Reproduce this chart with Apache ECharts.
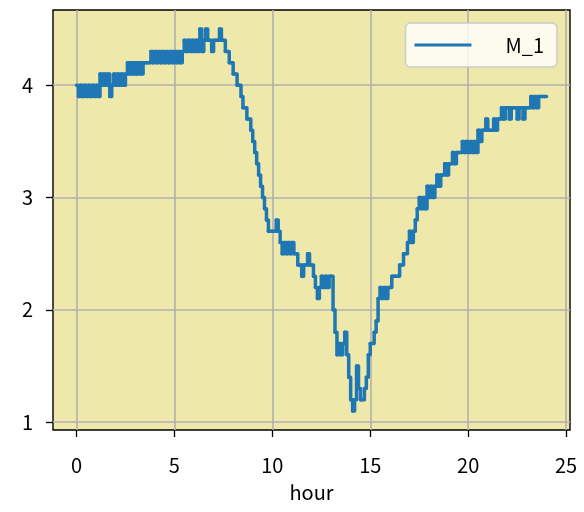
<!DOCTYPE html>
<html>
<head>
<meta charset="utf-8">
<script src="https://cdn.jsdelivr.net/npm/echarts@6/dist/echarts.min.js"></script>
<style>
  html, body { margin: 0; padding: 0; background: #fff; }
  #chart { width: 584px; height: 512px; }
</style>
</head>
<body>
<div id="chart"></div>
<script>
// one sample every 6 minutes (0.1 h)
const stepHours = 0.1
const seriesName = 'M_1'
const m1 = [
  4.0, 3.9, 4.0, 3.9, 4.0, 3.9, 4.0, 3.9, 4.0, 3.9, // 0h
  4.0, 3.9, 4.1, 4.0, 4.1, 4.0, 4.1, 3.9, 4.0, 4.1, // 1h
  4.0, 4.1, 4.0, 4.1, 4.0, 4.1, 4.2, 4.1, 4.2, 4.1, // 2h
  4.2, 4.1, 4.2, 4.1, 4.2, 4.2, 4.2, 4.2, 4.3, 4.2, // 3h
  4.3, 4.2, 4.3, 4.2, 4.3, 4.2, 4.3, 4.2, 4.3, 4.2, // 4h
  4.3, 4.2, 4.3, 4.2, 4.3, 4.4, 4.3, 4.4, 4.3, 4.4, // 5h
  4.3, 4.4, 4.3, 4.5, 4.3, 4.4, 4.5, 4.4, 4.4, 4.3, // 6h
  4.4, 4.4, 4.4, 4.5, 4.4, 4.4, 4.3, 4.3, 4.2, 4.2, // 7h
  4.1, 4.1, 4.0, 4.0, 3.9, 3.8, 3.8, 3.7, 3.7, 3.6, // 8h
  3.5, 3.4, 3.3, 3.2, 3.1, 3.0, 2.9, 2.8, 2.7, 2.7, // 9h
  2.7, 2.7, 2.8, 2.7, 2.6, 2.5, 2.6, 2.5, 2.6, 2.5, // 10h
  2.6, 2.5, 2.5, 2.4, 2.4, 2.3, 2.4, 2.4, 2.5, 2.4, // 11h
  2.4, 2.3, 2.2, 2.1, 2.2, 2.3, 2.2, 2.3, 2.2, 2.3, // 12h
  2.3, 2.0, 1.8, 1.6, 1.7, 1.6, 1.7, 1.8, 1.6, 1.4, // 13h
  1.2, 1.1, 1.2, 1.5, 1.3, 1.2, 1.2, 1.3, 1.4, 1.6, // 14h
  1.7, 1.7, 1.8, 1.9, 2.1, 2.2, 2.1, 2.2, 2.1, 2.2, // 15h
  2.2, 2.3, 2.3, 2.3, 2.3, 2.4, 2.4, 2.5, 2.5, 2.6, // 16h
  2.7, 2.6, 2.7, 2.8, 2.9, 3.0, 2.9, 3.0, 2.9, 3.1, // 17h
  3.0, 3.1, 3.0, 3.1, 3.2, 3.1, 3.2, 3.2, 3.3, 3.2, // 18h
  3.3, 3.3, 3.4, 3.3, 3.4, 3.4, 3.4, 3.5, 3.4, 3.5, // 19h
  3.4, 3.5, 3.4, 3.5, 3.4, 3.6, 3.5, 3.6, 3.6, 3.7, // 20h
  3.6, 3.6, 3.6, 3.7, 3.6, 3.7, 3.7, 3.8, 3.7, 3.8, // 21h
  3.8, 3.7, 3.8, 3.8, 3.8, 3.7, 3.8, 3.8, 3.7, 3.8, // 22h
  3.8, 3.8, 3.9, 3.8, 3.9, 3.8, 3.9, 3.9, 3.9, 3.9, // 23h
  3.9 // 24h
]
const xTicks = [0, 5, 10, 15, 20, 25]
const yTicks = [1, 2, 3, 4]

const lineColor = '#1f77b4'
const font = "'Noto Sans CJK JP', 'Noto Sans', sans-serif"
const points = m1.map((v, i) => [i * stepHours, v])

const chart = echarts.init(document.getElementById('chart'))

// each sample draws a step from the previous one; done per segment so
// the short 2px pieces are not simplified away
const renderStep = (params, api) => {
  const i = params.dataIndex
  if (i === 0) return null
  const a = api.coord(points[i - 1])
  const b = api.coord([api.value(0), api.value(1)])
  return {
    type: 'polyline',
    shape: { points: [a, [b[0], a[1]], b] },
    style: { stroke: lineColor, fill: null, lineWidth: 3.5, lineJoin: 'round', lineCap: 'round' }
  }
}

chart.setOption({
  animation: false,
  textStyle: { fontFamily: font },
  grid: {
    left: 53,
    right: 14,
    top: 10,
    bottom: 82,
    show: true,
    backgroundColor: '#EEE8AA',
    borderColor: '#000',
    borderWidth: 1.4
  },
  legend: {
    right: 27,
    top: 23,
    padding: [11, 13, 11, 9],
    backgroundColor: 'rgba(255,255,255,0.8)',
    borderColor: '#cccccc',
    borderWidth: 1.5,
    borderRadius: 5,
    icon: 'path://M0,0H60V3H0Z',
    itemWidth: 57,
    itemHeight: 3,
    itemStyle: { color: lineColor },
    textStyle: {
      fontFamily: font,
      fontSize: 20,
      color: '#000',
      lineHeight: 22,
      padding: [0, 0, 0, 29]
    },
    data: [seriesName]
  },
  xAxis: {
    type: 'value',
    min: -1.2,
    max: 25.2,
    name: 'hour',
    nameLocation: 'middle',
    nameGap: 52,
    nameTextStyle: { fontFamily: font, fontSize: 20, color: '#000' },
    axisLine: { show: false, onZero: false },
    axisTick: { show: true, length: 7, lineStyle: { color: '#000', width: 1.3 }, customValues: xTicks },
    axisLabel: { fontFamily: font, fontSize: 20, color: '#000', margin: 25, customValues: xTicks },
    splitLine: { show: true, lineStyle: { color: '#b0b0b0', width: 1.6 } }
  },
  yAxis: {
    type: 'value',
    min: 0.93,
    max: 4.67,
    axisLine: { show: false, onZero: false },
    axisTick: { show: true, length: 7, lineStyle: { color: '#000', width: 1.3 }, customValues: yTicks },
    axisLabel: { fontFamily: font, fontSize: 20, color: '#000', margin: 20, customValues: yTicks },
    splitLine: { show: true, lineStyle: { color: '#b0b0b0', width: 1.6 } }
  },
  series: [
    {
      name: seriesName,
      type: 'custom',
      itemStyle: { color: lineColor },
      renderItem: renderStep,
      encode: { x: 0, y: 1 },
      data: points
    }
  ]
})
</script>
</body>
</html>
